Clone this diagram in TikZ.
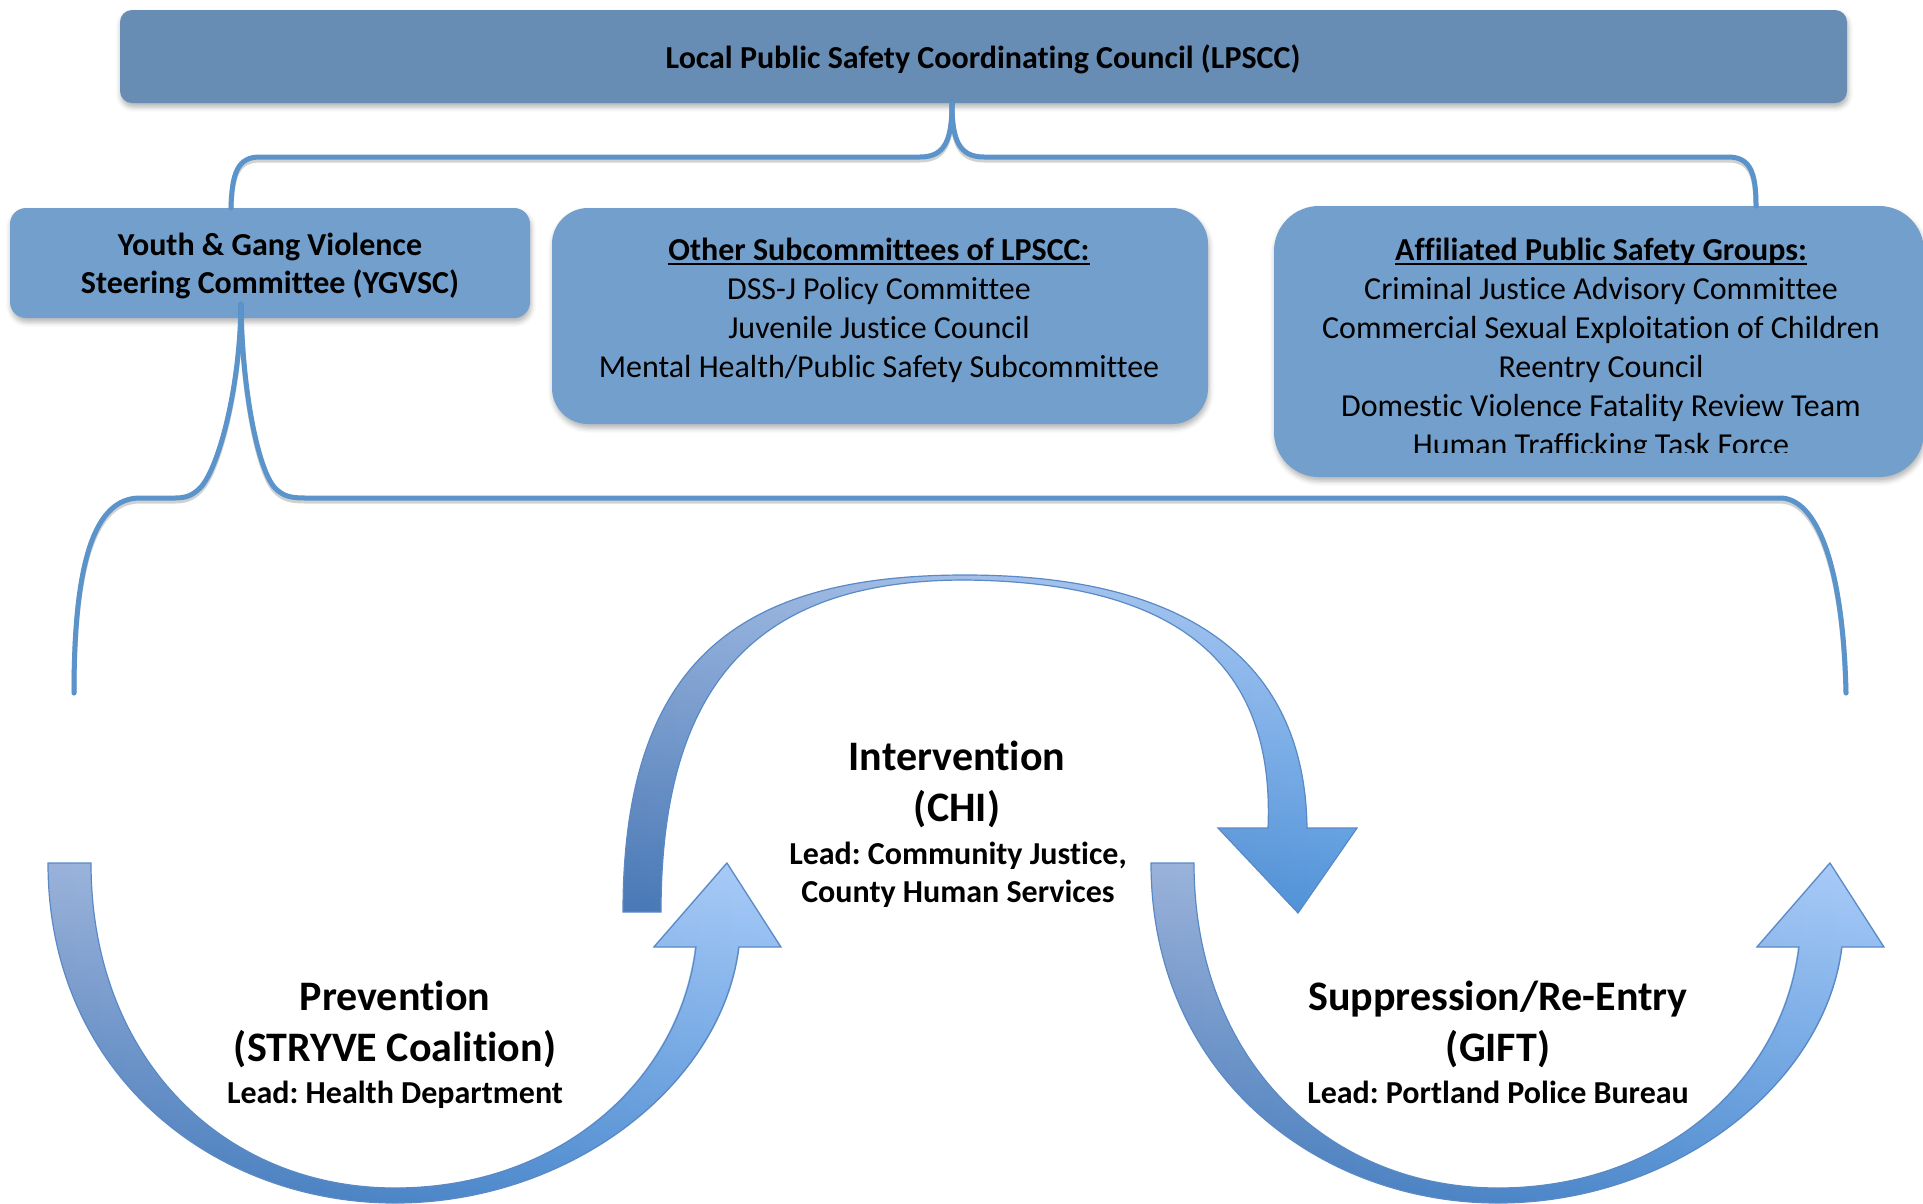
\documentclass[tikz,border=0pt]{standalone}
\usepackage{fontspec}
\setmainfont{Carlito}[Ligatures={NoCommon}]
\usetikzlibrary{shadows.blur,fadings}
\definecolor{topbox}{HTML}{678DB5}
\definecolor{subbox}{HTML}{729FCB}
\definecolor{conn}{HTML}{5B93CB}
\definecolor{arrline}{HTML}{5A8AC6}
\definecolor{grayTop}{HTML}{9AB2DA}
\definecolor{grayBot}{HTML}{4878B5}
\definecolor{brightTop}{HTML}{AACDFA}
\definecolor{brightBot}{HTML}{5295DB}
\begin{document}
\frenchspacing
\begin{tikzpicture}[x=1pt,y=-1pt,
  boxshadow/.style={blur shadow={shadow xshift=1pt, shadow yshift=-4pt, shadow blur radius=5pt, shadow opacity=30}},
  panel/.style={fill=subbox, draw=none, inner sep=0pt, boxshadow},
  connector/.style={draw=conn, line width=5pt, line cap=round, line join=round},
  connshadow/.style={draw=black, draw opacity=0.18, line width=5pt, line cap=round, line join=round, yshift=-3pt},
  boxtxt/.style={anchor=base, inner sep=0pt, text=black, font=\fontsize{32}{39}\selectfont},
  boxbold/.style={anchor=base, inner sep=0pt, text=black, font=\fontsize{32}{39}\selectfont\bfseries},
  bigtxt/.style={anchor=base, inner sep=0pt, text=black, font=\fontsize{42}{51}\selectfont\bfseries},
  arrowedge/.style={draw=arrline, line width=1.2pt, line join=miter}
]
\useasboundingbox (0,0) rectangle (1923,1203);

% ---------- boxes ----------
\node[panel, fill=topbox, rounded corners=12pt, minimum width=1727pt, minimum height=93pt] (lpscc) at (983.5,56.5) {};
\node[panel, rounded corners=16pt, minimum width=520pt, minimum height=110pt] (ygvsc) at (270,263) {};
\node[panel, rounded corners=36pt, minimum width=656pt, minimum height=216pt] (other) at (880,316) {};
\node[panel, rounded corners=45pt, minimum width=650pt, minimum height=271pt] (affil) at (1599,341.5) {};

% ---------- box texts ----------
\node[boxbold] (t0) at (983,68) {Local Public Safety Coordinating Council (LPSCC)};
\node[boxbold] (y1) at (270,255) {Youth \& Gang Violence};
\node[boxbold] (y2) at (270,293) {Steering Committee (YGVSC)};

\node[boxbold] (o0) at (879,260) {Other Subcommittees of LPSCC:};
\draw[line width=1.6pt] ([yshift=-4pt]o0.base west) -- ([yshift=-4pt]o0.base east);
\node[boxtxt] (o1) at (879,299) {DSS-J Policy Committee};
\node[boxtxt] (o2) at (879,338) {Juvenile Justice Council};
\node[boxtxt] (o3) at (879,377) {Mental Health/Public Safety Subcommittee};

\node[boxbold] (a0) at (1601,260) {Affiliated Public Safety Groups:};
\draw[line width=1.6pt] ([yshift=-4pt]a0.base west) -- ([yshift=-4pt]a0.base east);
\node[boxtxt] (a1) at (1601,299) {Criminal Justice Advisory Committee};
\node[boxtxt] (a2) at (1601,338) {Commercial Sexual Exploitation of Children};
\node[boxtxt] (a3) at (1601,377) {Reentry Council};
\node[boxtxt] (a4) at (1601,416) {Domestic Violence Fatality Review Team};
\begin{scope}
  \clip (1270,420) rectangle (1923,452);
  \node[boxtxt] (a5) at (1601,455) {Human Trafficking Task Force};
\end{scope}

% ---------- connectors ----------
\coordinate (tip) at ([xshift=-31.5pt]lpscc.south);
\coordinate (yin) at ([xshift=-39pt]ygvsc.north);
\coordinate (ain) at ([xshift=157pt]affil.north);
\coordinate (stem) at ([xshift=-29pt,yshift=14pt]ygvsc.south);
\coordinate (lend) at (74,693);
\coordinate (rend) at (1846,693);
\def\braceA{(tip) .. controls (952,140) and (945,157) .. (920,157) -- (260,157)
   .. controls (238,157) and (232,172) .. (yin)}
\def\braceB{(tip) .. controls (952,140) and (959,157) .. (984,157) -- (1728,157)
   .. controls (1750,157) and (1756,172) .. (ain)}
\def\braceC{(stem) .. controls (240,390) and (218,470) .. (200,488)
   .. controls (192,496) and (185,498) .. (175,498) -- (140,498)
   .. controls (95,498) and (74,560) .. (lend)}
\def\braceD{(stem) .. controls (242,390) and (258,470) .. (275,488)
   .. controls (283,496) and (290,498) .. (305,498) -- (1780,498)
   .. controls (1815,498) and (1843,560) .. (rend)}
\draw[connshadow] \braceA;
\draw[connshadow] \braceB;
\draw[connshadow] \braceC;
\draw[connshadow] \braceD;
\draw[connector] \braceA;
\draw[connector] \braceB;
\draw[connector] \braceC;
\draw[connector] \braceD;

% ---------- curved arrows ----------
\def\uarrow{(48,863) -- (91,863) .. controls (91,1060) and (225,1188) .. (395,1188)
  .. controls (560,1188) and (680,1080) .. (696,947) -- (654,947) -- (727,863) -- (781,947) -- (739,947)
  .. controls (722,1085) and (570,1203) .. (395,1203) .. controls (215,1203) and (48,1075) .. (48,863) -- cycle}
\def\narrow{(623,912) -- (661,912) .. controls (661,680) and (760,580) .. (965,580)
  .. controls (1180,582) and (1275,665) .. (1268,828) -- (1218,828) -- (1298,913) -- (1357,828) -- (1307,828)
  .. controls (1305,670) and (1200,575) .. (965,575) .. controls (740,575) and (623,660) .. (623,912) -- cycle}

\shade[top color=grayTop, bottom color=grayBot] \uarrow;
\shade[top color=brightTop, bottom color=brightBot, path fading=west] \uarrow;
\path[arrowedge] \uarrow;

\shade[top color=grayTop, bottom color=grayBot] \narrow;
\shade[top color=brightTop, bottom color=brightBot, path fading=west] \narrow;
\path[arrowedge] \narrow;

\begin{scope}[xshift=1103pt]
\shade[top color=grayTop, bottom color=grayBot] \uarrow;
\shade[top color=brightTop, bottom color=brightBot, path fading=west] \uarrow;
\path[arrowedge] \uarrow;
\end{scope}

% ---------- stage labels ----------
\node[bigtxt] (p1) at (395,1010) {Prevention};
\node[bigtxt] (p2) at (395,1061) {(STRYVE Coalition)};
\node[boxbold] (p3) at (395,1103) {Lead: Health Department};

\node[bigtxt] (i1) at (957,770) {Intervention};
\node[bigtxt] (i2) at (957,821) {(CHI)};
\node[boxbold] (i3) at (958,864) {Lead: Community Justice,};
\node[boxbold] (i4) at (958,902) {County Human Services};

\node[bigtxt] (s1) at (1498,1010) {Suppression/Re-Entry};
\node[bigtxt] (s2) at (1498,1061) {(GIFT)};
\node[boxbold] (s3) at (1498,1103) {Lead: Portland Police Bureau};
\end{tikzpicture}
\end{document}
